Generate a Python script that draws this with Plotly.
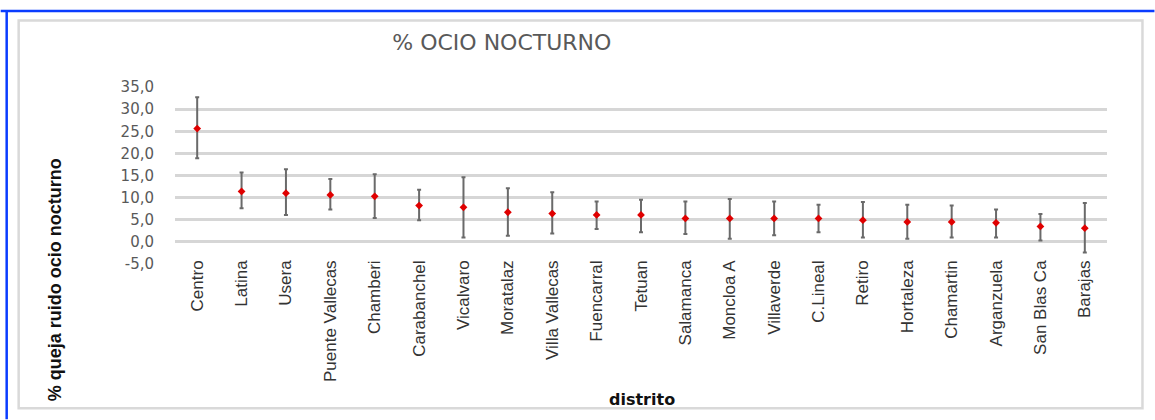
import plotly.graph_objects as go

distritos = ["Centro", "Latina", "Usera", "Puente Vallecas", "Chamberi", "Carabanchel",
             "Vicalvaro", "Moratalaz", "Villa Vallecas", "Fuencarral", "Tetuan", "Salamanca",
             "Moncloa A", "Villaverde", "C.Lineal", "Retiro", "Hortaleza", "Chamartin",
             "Arganzuela", "San Blas Ca", "Barajas"]
valor = [25.6, 11.4, 11.0, 10.6, 10.3, 8.2, 7.8, 6.7, 6.4, 6.1, 6.1, 5.3, 5.3, 5.3, 5.3,
         4.9, 4.5, 4.5, 4.3, 3.5, 3.1]
superior = [32.7, 15.7, 16.4, 14.2, 15.3, 11.8, 14.6, 12.1, 11.2, 9.1, 9.5, 9.1, 9.7, 9.1, 8.4,
            9.0, 8.4, 8.2, 7.3, 6.3, 8.8]
inferior = [18.9, 7.6, 6.1, 7.3, 5.4, 4.9, 1.0, 1.4, 1.9, 2.9, 2.2, 1.8, 0.7, 1.5, 2.2,
            1.0, 0.7, 1.0, 1.0, 0.3, -2.4]
y_ticks = [-5, 0, 5, 10, 15, 20, 25, 30, 35]
y_ticktext = ["-5,0", "0,0", "5,0", "10,0", "15,0", "20,0", "25,0", "30,0", "35,0"]

err_plus = [s - v for s, v in zip(superior, valor)]
err_minus = [v - i for v, i in zip(valor, inferior)]

W, H = 1155, 420
L, R, T, B = 174.5, 1107.5, 86.7, 264.3


def px(x):
    return (x - L) / (R - L)


def py(y):
    return (B - y) / (B - T)


fig = go.Figure()
fig.add_trace(go.Scatter(
    x=distritos, y=valor, mode="markers",
    marker=dict(symbol="diamond", size=6, color="#e00000"),
    error_y=dict(type="data", symmetric=False, array=err_plus, arrayminus=err_minus,
                 color="#6a6a6a", thickness=2, width=2),
    showlegend=False,
))

shapes = [
    # outer blue border (top and left)
    dict(type="line", xref="paper", yref="paper", x0=px(0), x1=px(W), y0=py(10.5), y1=py(10.5),
         line=dict(color="#0a3cff", width=2.5)),
    dict(type="line", xref="paper", yref="paper", x0=px(6), x1=px(6), y0=py(10), y1=py(H),
         line=dict(color="#0a3cff", width=2.5)),
    # inner gray chart-area border
    dict(type="rect", xref="paper", yref="paper", x0=px(18), x1=px(1143), y0=py(409), y1=py(20),
         line=dict(color="#d9d9d9", width=2.5)),
]

annotations = [
    dict(text="% queja ruido ocio nocturno", xref="paper", yref="paper", x=px(54), y=py(280),
         xanchor="center", yanchor="middle", textangle=-90, showarrow=False,
         font=dict(family="Liberation Sans", size=18, color="#111111", weight="bold")),
    dict(text="distrito", xref="paper", yref="paper", x=px(642), y=py(400),
         xanchor="center", yanchor="middle", showarrow=False,
         font=dict(family="DejaVu Sans", size=16, color="#111111", weight="bold")),
]

fig.update_layout(
    width=W, height=H,
    margin=dict(l=L, r=W - R, t=T, b=H - B, pad=0, autoexpand=False),
    paper_bgcolor="white", plot_bgcolor="white",
    separators=",.",
    title=dict(text="% OCIO NOCTURNO", x=px(501.7), xref="paper", xanchor="center",
               y=1 - 42.5 / H, yanchor="middle",
               font=dict(family="DejaVu Sans", size=22, color="#595959")),
    shapes=shapes,
    annotations=annotations,
    xaxis=dict(
        range=[-0.5, len(distritos) - 0.5], automargin=False,
        showgrid=False, zeroline=False, showline=False, ticks="",
        tickangle=-90, tickfont=dict(family="Liberation Sans", size=17, color="#333333"),
        ticklabelstandoff=-8,
    ),
    yaxis=dict(
        range=[-5, 35], tickvals=y_ticks, ticktext=y_ticktext, automargin=False,
        showgrid=True, gridcolor="#d6d6d6", gridwidth=2.5,
        zeroline=False, showline=False, ticks="",
        tickfont=dict(family="DejaVu Sans", size=15, color="#595959"),
        ticklabelstandoff=20,
    ),
)

fig.write_html("out.html", config={"displayModeBar": False},
               post_script="document.body.style.margin='0px';")
